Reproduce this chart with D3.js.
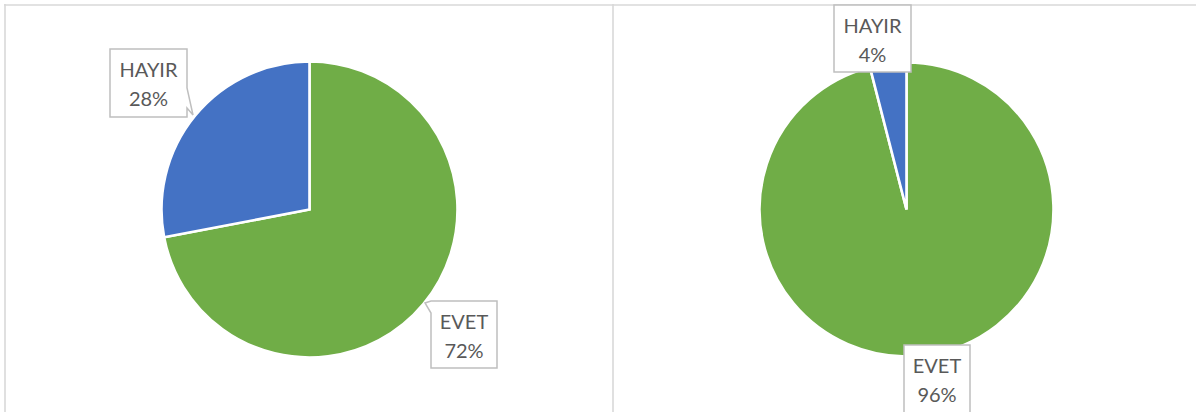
<!DOCTYPE html>
<html>
<head>
<meta charset="utf-8">
<script src="https://cdn.jsdelivr.net/npm/d3@7"></script>
<style>
  html, body { margin: 0; padding: 0; background: #fff; }
  svg { display: block; }
</style>
</head>
<body>
<svg id="chart" width="1196" height="412"></svg>
<script>
// ---- data ----
const categories = ["EVET", "HAYIR"];
const leftValues = [72, 28];
const rightValues = [96, 4];
const colors = ["#70AD47", "#4472C4"];

// ---- layout ----
const W = 1196, H = 412;
const svg = d3.select("#chart");

// frame lines
const frame = svg.append("g").attr("stroke", "#d9d9d9").attr("stroke-width", 1.6).attr("fill", "none");
frame.append("line").attr("x1", 4).attr("x2", W).attr("y1", 5).attr("y2", 5);
frame.append("line").attr("x1", 5).attr("x2", 5).attr("y1", 4).attr("y2", H);
frame.append("line").attr("x1", 613).attr("x2", 613).attr("y1", 4).attr("y2", H);

const charts = [
  { values: leftValues, cx: 309.5, cy: 209.5, r: 148,
    labels: [
      { x: 431, y: 301, w: 66, h: 67, tail: "topleft" },
      { x: 110, y: 49, w: 77, h: 68, tail: "right" }
    ] },
  { values: rightValues, cx: 906.5, cy: 209.5, r: 147,
    labels: [
      { x: 904, y: 345, w: 66, h: 80, tail: null },
      { x: 834, y: 5, w: 77, h: 67, tail: null }
    ] }
];

const pie = d3.pie().sort(null).startAngle(0).endAngle(2 * Math.PI);

charts.forEach(c => {
  const total = d3.sum(c.values);
  const arcs = pie(c.values);
  const arc = d3.arc().innerRadius(0).outerRadius(c.r);
  const g = svg.append("g").attr("transform", `translate(${c.cx},${c.cy})`);
  g.selectAll("path").data(arcs).join("path")
    .attr("d", arc)
    .attr("fill", (d, i) => colors[i])
    .attr("stroke", "#fff")
    .attr("stroke-width", 2.6)
    .attr("stroke-linejoin", "miter");

  // labels
  arcs.forEach((d, i) => {
    const L = c.labels[i];
    const lg = svg.append("g");
    let p;
    const x0 = L.x, y0 = L.y, x1 = L.x + L.w, y1 = L.y + L.h;
    if (L.tail === "right") {
      p = `M${x0},${y0}H${x1}V${y0 + 39}L${x1 + 6},${y1 - 2}L${x1},${y1 - 9}V${y1}H${x0}Z`;
    } else if (L.tail === "topleft") {
      p = `M${x0},${y0}H${x1}V${y1}H${x0}V${y0 + 12}L${x0 - 6},${y0 + 2}Z`;
    } else {
      p = `M${x0},${y0}H${x1}V${y1}H${x0}Z`;
    }
    lg.append("path").attr("d", p)
      .attr("fill", "#fff").attr("stroke", "#bfbfbf").attr("stroke-width", 1.5);
    const tx = x0 + L.w / 2;
    const pct = Math.round(d.data / total * 100) + "%";
    lg.append("text").attr("x", tx).attr("y", y0 + 28)
      .attr("text-anchor", "middle")
      .attr("font-family", "Lato, 'Open Sans', sans-serif")
      .attr("font-size", 20).attr("fill", "#595959")
      .text(categories[i]);
    lg.append("text").attr("x", tx).attr("y", y0 + 57)
      .attr("text-anchor", "middle")
      .attr("font-family", "Lato, 'Open Sans', sans-serif")
      .attr("font-size", 20).attr("fill", "#595959")
      .text(pct);
  });
});
</script>
</body>
</html>
